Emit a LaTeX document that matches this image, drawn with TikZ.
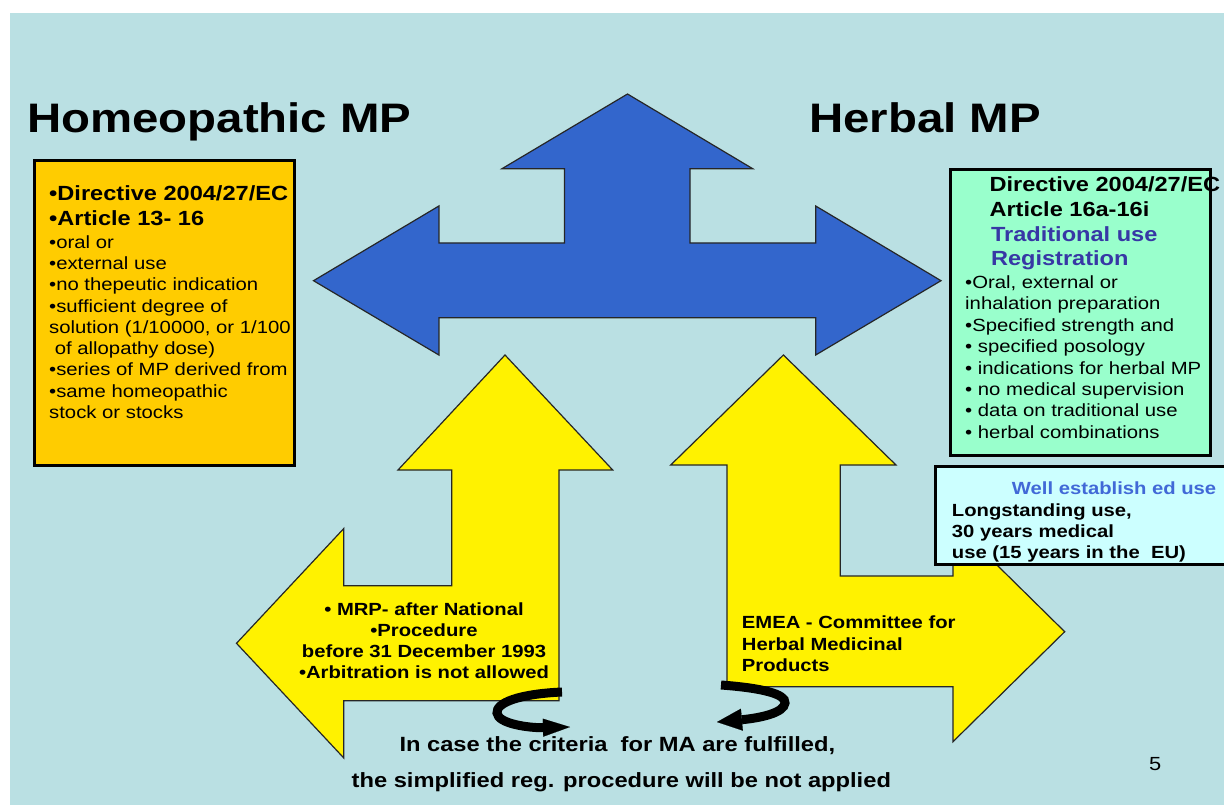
\documentclass[tikz,border=0pt]{standalone}
\usepackage{fontspec}
\setmainfont{Liberation Sans}[FakeStretch=1.15]
\usetikzlibrary{arrows.meta}

\definecolor{slidebg}{RGB}{186,224,227}
\definecolor{arrowblue}{RGB}{51,102,204}
\definecolor{boxorange}{RGB}{255,204,0}
\definecolor{boxmint}{RGB}{153,255,204}
\definecolor{boxice}{RGB}{204,255,255}
\definecolor{headblue}{RGB}{55,55,165}
\definecolor{wellblue}{RGB}{65,105,215}

% stacked lines, baseline of the block = baseline of its first line
\newcommand\leftlines[1]{\vtop{\halign{##\hfil\cr#1\crcr}}}
\newcommand\centerlines[1]{\vtop{\halign{\hfil##\hfil\cr#1\crcr}}}

\tikzset{
  panel/.style={draw=black, line width=3pt},
  bigarrow/.style={draw=black!85, line width=1.2pt, line join=miter},
  txt/.style={inner sep=0pt, anchor=base west},
  ctxt/.style={inner sep=0pt, anchor=base},
  curl/.style={line width=9pt, line cap=butt}
}

\begin{document}
\begin{tikzpicture}[x=1pt,y=-1pt]
\useasboundingbox (0,0) rectangle (1224,805);
\fill[white] (0,0) rectangle (1224,805);
\fill[slidebg] (10,13) rectangle (1224,805);

% three-way blue arrow
\filldraw[bigarrow, fill=arrowblue]
  (627.5,94) -- (752.7,168.7) -- (690,168.7) -- (690,243) -- (815.7,243)
  -- (815.7,206) -- (941,280.7) -- (815.7,355) -- (815.7,317.7)
  -- (438.9,317.7) -- (438.9,355) -- (313.5,280.7) -- (438.9,206)
  -- (438.9,243) -- (564.5,243) -- (564.5,168.7) -- (502,168.7) -- cycle;

% yellow up-and-left arrow
\filldraw[bigarrow, fill=yellow]
  (505,355) -- (612.7,470) -- (559,470) -- (559,700.7) -- (343.8,700.7)
  -- (343.8,758) -- (236.5,643.3) -- (343.8,528.5) -- (343.8,585.7)
  -- (451.7,585.7) -- (451.7,470) -- (398,470) -- cycle;

% yellow up-and-right arrow
\filldraw[bigarrow, fill=yellow]
  (783.4,355) -- (896,465) -- (840.3,465) -- (840.3,576) -- (953,576)
  -- (953,521.7) -- (1064.7,631.7) -- (953,741.7) -- (953,686.7)
  -- (727,686.7) -- (727,465) -- (670.7,465) -- cycle;

% text panels
\filldraw[panel, fill=boxorange] (34.8,160.5) rectangle (294.2,465.2);
\filldraw[panel, fill=boxmint] (950.5,169.8) rectangle (1210.2,455.5);
\filldraw[panel, fill=boxice] (935.5,466.5) rectangle (1240,564.5);

% titles
\node[txt, font=\bfseries\fontsize{41.2}{48}\selectfont] (homeo) at (27,133) {Homeopathic MP};
\node[txt, font=\bfseries\fontsize{41.2}{48}\selectfont] (herbal) at (809,133) {Herbal MP};

% homeopathic panel
\node[txt, font=\bfseries\fontsize{20.5}{24.7}\selectfont] (homeohead) at (49,201)
  {\leftlines{•Directive 2004/27/EC\cr •Article 13- 16}};
\node[txt, font=\fontsize{17.65}{21.25}\selectfont] (homeobody) at (49,248.3)
  {\leftlines{•oral or\cr •external use\cr •no thepeutic indication\cr
   •sufficient degree of\cr solution (1/10000, or 1/100\cr \ of allopathy dose)\cr
   •series of MP derived from\cr •same homeopathic\cr stock or stocks}};

% herbal panel
\node[txt, font=\bfseries\fontsize{20.5}{24.7}\selectfont] (herbhead) at (989.3,191.7)
  {\leftlines{Directive 2004/27/EC\cr Article 16a-16i\cr
   \kern1.5pt\textcolor{headblue}{Traditional use}\cr \kern1.5pt\textcolor{headblue}{Registration}}};
\node[txt, font=\fontsize{17.65}{21.43}\selectfont] (herbbody) at (965,288.3)
  {\leftlines{•Oral, external or\cr inhalation preparation\cr •Specified strength and\cr
   • specified posology\cr • indications for herbal MP\cr • no medical supervision\cr
   • data on traditional use\cr • herbal combinations}};

% well-established use panel
\node[txt, font=\bfseries\fontsize{17.6}{21}\selectfont, text=wellblue] (wellhead) at (1011.7,494.3)
  {Well establish ed use};
\node[txt, font=\bfseries\fontsize{17.6}{20.8}\selectfont] (wellbody) at (951.7,516.7)
  {\leftlines{Longstanding use,\cr 30 years medical\cr use (15 years in the\ \ EU)}};

% labels on the yellow arrows
\node[ctxt, font=\bfseries\fontsize{17.6}{20.87}\selectfont] (mrp) at (424,615.7)
  {\centerlines{• MRP- after National\cr •Procedure\cr before 31 December 1993\cr •Arbitration is not allowed}};
\node[txt, font=\bfseries\fontsize{17.6}{21.7}\selectfont] (emea) at (741.7,628.3)
  {\leftlines{EMEA - Committee for\cr Herbal Medicinal\cr Products}};

% bottom statement
\node[txt, font=\bfseries\fontsize{20.6}{24}\selectfont] (crit1) at (399.3,751)
  {In case the criteria\ \ for MA are fulfilled,};
\node[txt, font=\bfseries\fontsize{20.6}{24}\selectfont] (crit2) at (351.5,787.7)
  {the simplified reg. procedure will be not applied};

% slide number
\node[txt, font=\fontsize{19}{22}\selectfont] (pageno) at (1149,770) {5};

% curled arrows
\coordinate (lcurlA) at (562,692);
\coordinate (lcurlB) at (570,727);
\coordinate (rcurlA) at (721,685);
\coordinate (rcurlB) at (717,722);
\draw[curl, -{Triangle[length=27pt,width=18pt,line width=0.1pt]}]
  (lcurlA) .. controls (518,694) and (496,703) .. (497,713)
  .. controls (498,724) and (530,728) .. (lcurlB);
\draw[curl, -{Triangle[length=25pt,width=22pt,line width=0.1pt]}]
  (rcurlA) .. controls (762,688) and (786,694) .. (785,703)
  .. controls (784,713) and (760,718) .. (rcurlB);
\end{tikzpicture}
\end{document}
